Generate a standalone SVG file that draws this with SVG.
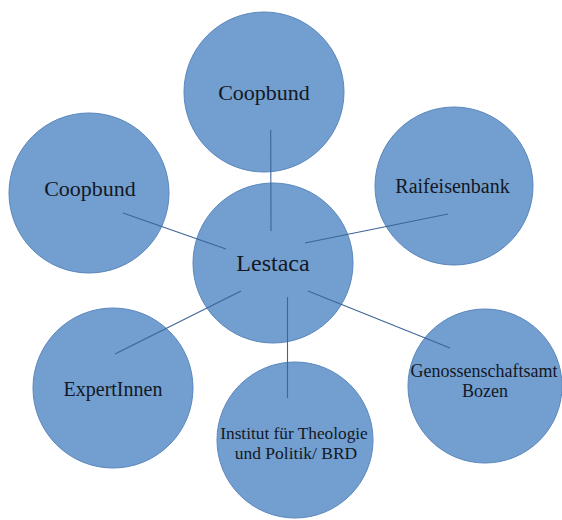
<svg xmlns="http://www.w3.org/2000/svg" width="562" height="520" viewBox="0 0 562 520">
<style>
.c{fill:#729fcf;stroke:#5a86bd;stroke-width:1}
.t{font-family:"Liberation Serif","Times New Roman",serif;fill:#141824;text-anchor:middle}
.l{stroke:#3d6598;stroke-width:1.1;fill:none}
</style>
<rect width="562" height="520" fill="#fff"/>
<g id="node-top">
<circle class="c" cx="264" cy="92" r="80"/>
<text class="t" x="264" y="100" font-size="22">Coopbund</text>
</g>
<g id="node-left">
<circle class="c" cx="89" cy="193" r="80"/>
<text class="t" x="90" y="196" font-size="22">Coopbund</text>
</g>
<g id="node-right">
<circle class="c" cx="454" cy="186" r="79"/>
<text class="t" x="452.5" y="193" font-size="20">Raifeisenbank</text>
</g>
<g id="node-center">
<circle class="c" cx="273" cy="263" r="80"/>
<text class="t" x="273" y="271" font-size="24">Lestaca</text>
</g>
<g id="node-bottomleft">
<circle class="c" cx="113" cy="388" r="80"/>
<text class="t" x="113" y="396" font-size="20">ExpertInnen</text>
</g>
<g id="node-bottom">
<circle class="c" cx="295" cy="440" r="78"/>
<text class="t" x="294" y="439" font-size="17.3">Institut für Theologie</text>
<text class="t" x="296" y="459" font-size="17.5">und Politik/ BRD</text>
</g>
<g id="node-bottomright">
<circle class="c" cx="485" cy="386" r="77"/>
<text class="t" x="484" y="377" font-size="18">Genossenschaftsamt</text>
<text class="t" x="485" y="397" font-size="18">Bozen</text>
</g>
<g id="connectors">
<line class="l" x1="270.7" y1="130" x2="271" y2="231"/>
<line class="l" x1="123" y1="213" x2="226" y2="249"/>
<line class="l" x1="448" y1="214" x2="305" y2="243"/>
<line class="l" x1="115" y1="354" x2="241" y2="291"/>
<line class="l" x1="287.5" y1="297" x2="287.5" y2="398"/>
<line class="l" x1="308" y1="291" x2="450" y2="348"/>
</g>
</svg>
